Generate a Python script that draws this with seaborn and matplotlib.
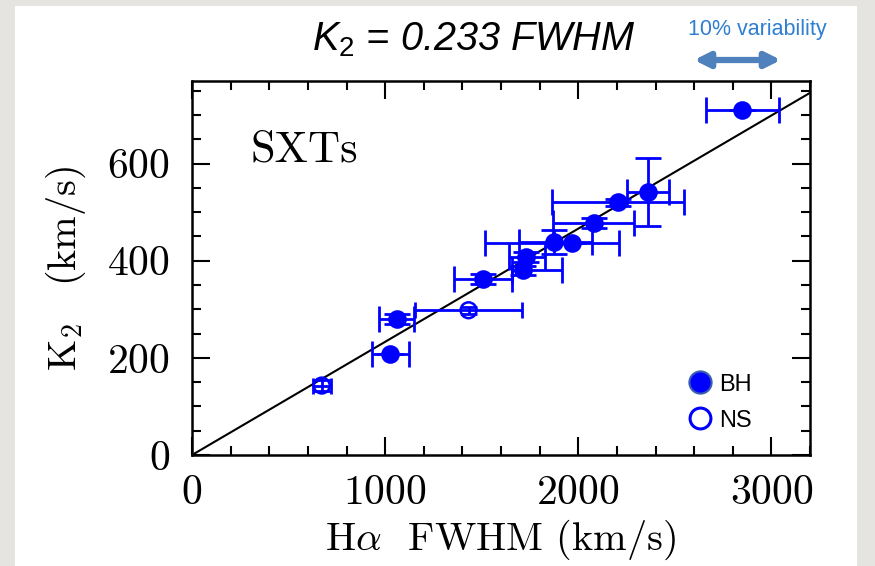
import numpy as np
import pandas as pd
import matplotlib
matplotlib.use("Agg")
import matplotlib.pyplot as plt
import seaborn as sns
from matplotlib.lines import Line2D
from matplotlib.patches import Rectangle
from matplotlib.ticker import MultipleLocator

# ── data ─────────────────────────────────────────────────────
BH_FWHM        = [1027, 1060, 1505, 1712, 1730, 1872, 1967, 2079, 2207, 2359, 2848]
BH_K2          = [207, 280, 363, 380, 408, 439, 437, 477, 520, 542, 711]
BH_FWHM_ERR_LO = [97, 90, 150, 56, 90, 178, 449, 212, 343, 104, 185]
BH_FWHM_ERR_HI = [95, 90, 150, 202, 100, 199, 245, 211, 339, 109, 190]
BH_K2_ERR      = [0, 10, 10, 10, 10, 25, 0, 10, 8, 70, 0]

NS_FWHM     = [672, 1432]
NS_K2       = [143, 298]
NS_FWHM_ERR = [48, 275]
NS_K2_ERR   = [12, 7]

SLOPE  = 0.233
X_FIT  = [0, 3200]
BLUE   = "#0000FF"

sns.set_theme(style="ticks")
plt.rcParams.update({
    "font.family": ["cmr10", "DejaVu Serif"],
    "mathtext.fontset": "cm",
    "axes.formatter.use_mathtext": True,
    "mathtext.it": "Liberation Sans:italic",
    "mathtext.rm": "Liberation Sans",
    "text.color": "black",
    "axes.labelcolor": "black",
})

bh = pd.DataFrame({"fwhm": BH_FWHM, "k2": BH_K2})
ns = pd.DataFrame({"fwhm": NS_FWHM, "k2": NS_K2})
fit = pd.DataFrame({"fwhm": X_FIT, "k2": [SLOPE * v for v in X_FIT]})

fig = plt.figure(figsize=(8.75, 5.66), dpi=100, facecolor="#E6E4E1")
fig.patches.append(Rectangle((15 / 875, 0), (857 - 15) / 875, 1 - 6 / 566,
                             transform=fig.transFigure, facecolor="white",
                             edgecolor="none", zorder=-1))
ax = fig.add_axes([192 / 875, 1 - 455 / 566, 618 / 875, 374 / 566])
ax.set_facecolor("white")

# error bars
ax.errorbar(bh["fwhm"], bh["k2"], xerr=[BH_FWHM_ERR_LO, BH_FWHM_ERR_HI],
            yerr=BH_K2_ERR, fmt="none", ecolor=BLUE, elinewidth=2.0,
            capsize=9.5, capthick=2.0, zorder=2)
ax.errorbar(ns["fwhm"], ns["k2"], xerr=NS_FWHM_ERR, yerr=NS_K2_ERR,
            fmt="none", ecolor=BLUE, elinewidth=2.0, capsize=6,
            capthick=2.0, zorder=2)

# fit line
sns.lineplot(data=fit, x="fwhm", y="k2", color="black", lw=1.5, ax=ax, zorder=1)

# points
sns.scatterplot(data=bh, x="fwhm", y="k2", s=180, color=BLUE,
                edgecolor=BLUE, linewidth=0, ax=ax, zorder=3, legend=False)
sns.scatterplot(data=ns, x="fwhm", y="k2", s=130, facecolors="none",
                edgecolor=BLUE, linewidth=1.8, ax=ax, zorder=3, legend=False)

ax.set_xlim(0, 3200)
ax.set_ylim(0, 770)
ax.xaxis.set_major_locator(MultipleLocator(1000))
ax.xaxis.set_minor_locator(MultipleLocator(200))
ax.yaxis.set_major_locator(MultipleLocator(200))
ax.yaxis.set_minor_locator(MultipleLocator(50))
ax.tick_params(which="both", direction="in", top=True, right=True,
               width=1.5, colors="black", labelsize=30)
ax.tick_params(axis="x", pad=14)
ax.tick_params(axis="y", pad=16)
ax.tick_params(which="major", length=13)
ax.tick_params(which="minor", length=6.5)
for sp in ax.spines.values():
    sp.set_linewidth(1.8)
    sp.set_color("black")

ax.set_xlabel(r"H$\alpha$  FWHM (km/s)", fontsize=29, labelpad=4)
ax.set_ylabel(r"K$_2$$\quad$(km/s)", fontsize=29, labelpad=14)

ax.text(0.095, 0.784, "SXTs", transform=ax.transAxes, fontsize=32,
        va="baseline", ha="left")

# legend
handles = [
    Line2D([], [], marker="o", ls="none", ms=16, mfc=BLUE, mec="#3A5FB0", mew=1.5),
    Line2D([], [], marker="o", ls="none", ms=15, mfc="white", mec=BLUE, mew=2.2),
]
ax.legend(handles, ["BH", "NS"], loc="center left",
          bbox_to_anchor=(0.765, 0.14), frameon=False,
          prop={"family": "Liberation Sans", "size": 17},
          handletextpad=0.2, labelspacing=0.6, handlelength=1.2)

# title and annotation
fig.text(474 / 875, 1 - 50 / 566, r"$K_2$ = 0.233 FWHM", ha="center",
         va="baseline", fontsize=28.5, family="Liberation Sans", style="italic",
         math_fontfamily="custom")
fig.text(757 / 875, 1 - 30 / 566, "10% variability", ha="center", va="center",
         fontsize=15.5, family="Liberation Sans", color="#2E7FD0")
ax.annotate("", xy=(781 / 875, 1 - 60 / 566), xytext=(694 / 875, 1 - 60 / 566),
            xycoords="figure fraction", textcoords="figure fraction",
            arrowprops=dict(arrowstyle="<|-|>", color="#4F81BD", lw=4.5,
                            mutation_scale=22, shrinkA=0, shrinkB=0))

fig.savefig("out.png", dpi=100, facecolor=fig.get_facecolor())
plt.close(fig)
